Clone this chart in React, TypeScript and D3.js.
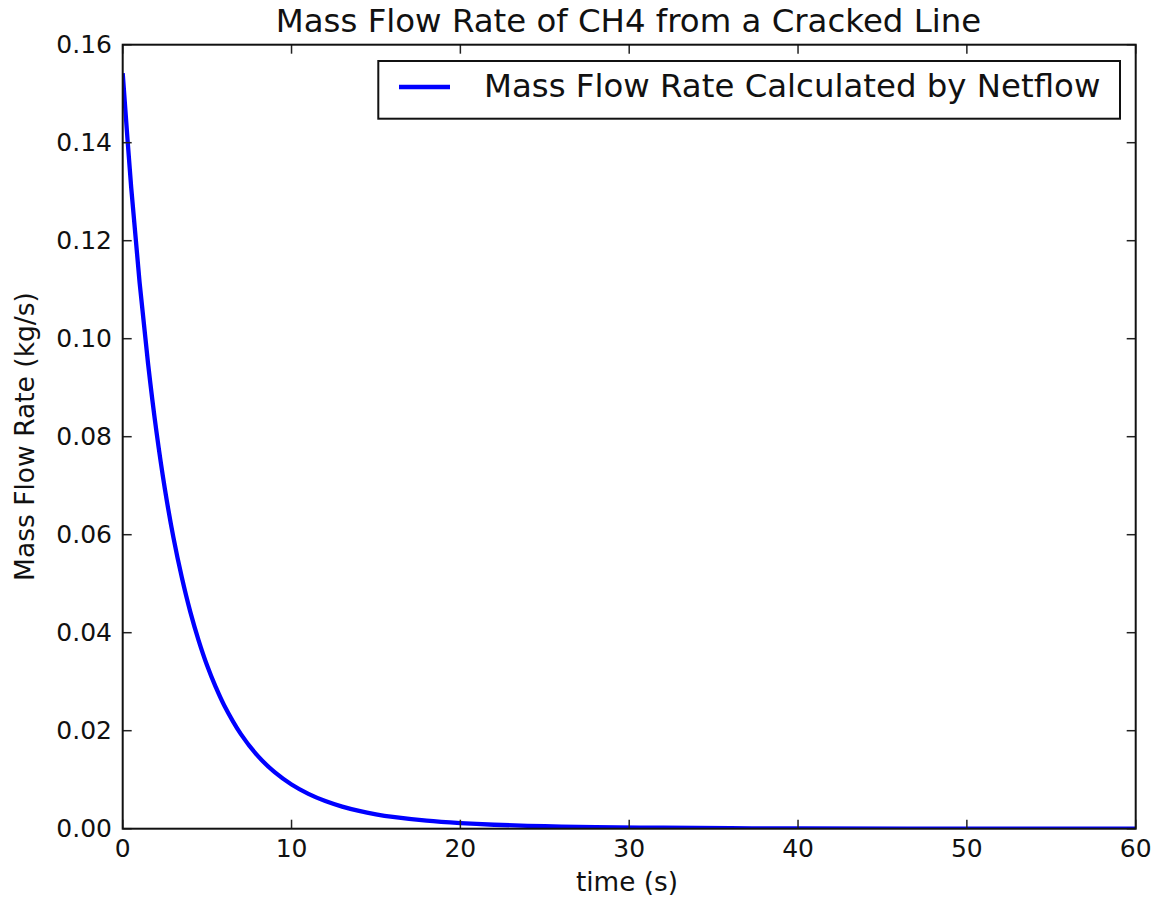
import React from "react";
import * as d3 from "d3";

const timeS = [0, 0.5, 1, 1.5, 2, 2.5, 3, 3.5, 4, 4.5, 5, 5.5, 6, 7, 8, 9, 10, 11, 12, 13, 14, 15, 16, 18, 20, 22, 25, 28, 32, 36, 40, 50, 60];
const flowKgS = [0.1542, 0.131, 0.1115, 0.095, 0.081, 0.0693, 0.0595, 0.0513, 0.0443, 0.0384, 0.0333, 0.029, 0.02525, 0.0193, 0.01486, 0.01153, 0.00902, 0.00711, 0.00564, 0.00451, 0.00363, 0.00294, 0.0024, 0.00163, 0.00114, 0.00081, 0.00051, 0.00033, 0.00019, 0.0001, 0.00006, 0.00001, 0];
const xTicks = [0, 10, 20, 30, 40, 50, 60];
const yTicks = [0, 0.02, 0.04, 0.06, 0.08, 0.1, 0.12, 0.14, 0.16];

const W = 1151;
const H = 899;
const L = 122.7, R = 1135.7, T = 44.7, B = 828.7;
const FONT = "'DejaVu Sans', Verdana, sans-serif";

export default function App() {
  const x = d3.scaleLinear().domain([0, 60]).range([L, R]);
  const y = d3.scaleLinear().domain([0, 0.16]).range([B, T]);
  const pts = timeS.map((t, i) => [t, flowKgS[i]] as [number, number]);
  const line = d3
    .line<[number, number]>()
    .x((d) => x(d[0]))
    .y((d) => y(d[1]))
    .curve(d3.curveCatmullRom.alpha(0.5));
  const tl = 9;
  return (
    <svg width={W} height={H} style={{ position: "absolute", left: 0, top: 0, background: "#fff" }}>
      <rect x={0} y={0} width={W} height={H} fill="#fff" />
      <defs>
        <clipPath id="plot">
          <rect x={L} y={T} width={R - L} height={B - T} />
        </clipPath>
      </defs>
      <path d={line(pts) || ""} fill="none" stroke="#0000ff" strokeWidth={4.3} strokeLinejoin="round" clipPath="url(#plot)" />
      {xTicks.map((t) => (
        <g key={"xt" + t} stroke="#222" strokeWidth={1.5}>
          <line x1={x(t)} x2={x(t)} y1={B} y2={B - tl} />
          <line x1={x(t)} x2={x(t)} y1={T} y2={T + tl} />
        </g>
      ))}
      {yTicks.map((t) => (
        <g key={"yt" + t} stroke="#222" strokeWidth={1.5}>
          <line x1={L} x2={L + tl} y1={y(t)} y2={y(t)} />
          <line x1={R} x2={R - tl} y1={y(t)} y2={y(t)} />
        </g>
      ))}
      <rect x={L} y={T} width={R - L} height={B - T} fill="none" stroke="#111" strokeWidth={2} />
      {xTicks.map((t) => (
        <text key={"xl" + t} x={x(t)} y={857} textAnchor="middle" fontFamily={FONT} fontSize={25} fill="#111">
          {String(t)}
        </text>
      ))}
      {yTicks.map((t) => (
        <text key={"yl" + t} x={112} y={y(t) + 8.5} textAnchor="end" fontFamily={FONT} fontSize={25} fill="#111">
          {t.toFixed(2)}
        </text>
      ))}
      <text x={628.5} y={32} textAnchor="middle" fontFamily={FONT} fontSize={32.4} fill="#111">
        Mass Flow Rate of CH4 from a Cracked Line
      </text>
      <text x={627} y={891} textAnchor="middle" fontFamily={FONT} fontSize={26.3} fill="#111">
        time (s)
      </text>
      <text
        transform={`translate(34, ${436.5}) rotate(-90)`}
        textAnchor="middle"
        fontFamily={FONT}
        fontSize={26.5}
        fill="#111"
      >
        Mass Flow Rate (kg/s)
      </text>
      <rect x={378.3} y={61} width={1120 - 378.3} height={57.7} fill="#fff" stroke="#111" strokeWidth={2} />
      <line x1={399} x2={450} y1={87} y2={87} stroke="#0000ff" strokeWidth={4.3} />
      <text x={484} y={97} fontFamily={FONT} fontSize={32.4} fill="#111">
        Mass Flow Rate Calculated by Netflow
      </text>
    </svg>
  );
}
